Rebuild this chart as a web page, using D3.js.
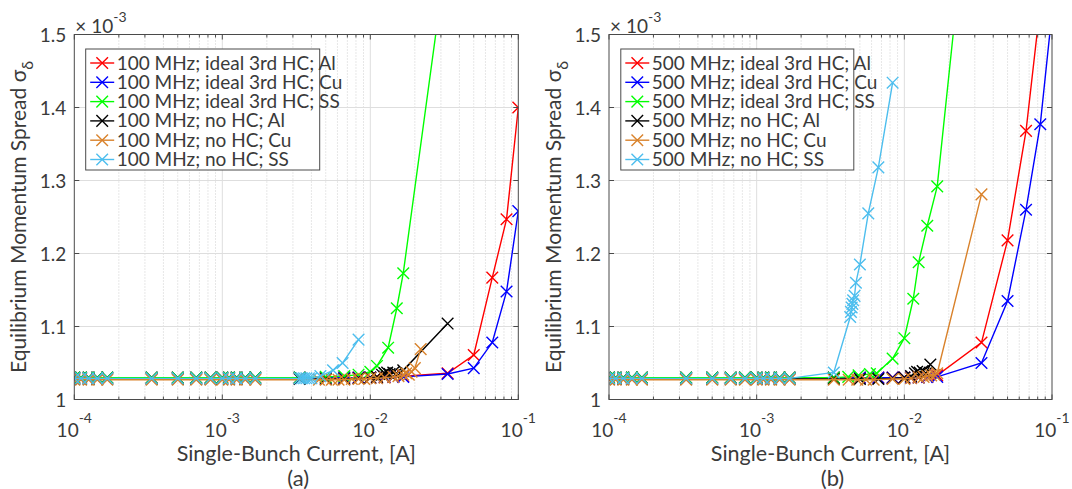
<!DOCTYPE html>
<html>
<head>
<meta charset="utf-8">
<script src="https://cdn.jsdelivr.net/npm/d3@7"></script>
<style>
  body { margin: 0; background: #fff; }
  text { font-family: Lato, "Open Sans", sans-serif; fill: #3a3a3a; }
</style>
</head>
<body>
<svg id="chart" width="1072" height="489"></svg>
<script>
// ---- data: [single-bunch current (A), sigma_delta (x1e-3)] ----
// (a) 100 MHz
const a_idealAl = [[1e-4,1.030],[1.11e-4,1.030],[1.25e-4,1.030],[1.43e-4,1.030],[1.67e-4,1.030],
  [3.33e-4,1.030],[5e-4,1.030],[6.67e-4,1.030],[8.33e-4,1.030],[1e-3,1.030],[1.11e-3,1.030],
  [1.25e-3,1.030],[1.43e-3,1.030],[1.67e-3,1.030],[3.33e-3,1.030],[5e-3,1.030],[6.67e-3,1.030],
  [8.33e-3,1.030],[1e-2,1.030],[1.11e-2,1.031],[1.25e-2,1.031],[1.43e-2,1.031],[1.67e-2,1.032],
  [3.33e-2,1.036],[5e-2,1.061],[6.67e-2,1.167],[8.33e-2,1.247],[1e-1,1.400]];
const a_idealCu = [[1e-4,1.030],[1.11e-4,1.030],[1.25e-4,1.030],[1.43e-4,1.030],[1.67e-4,1.030],
  [3.33e-4,1.030],[5e-4,1.030],[6.67e-4,1.030],[8.33e-4,1.030],[1e-3,1.030],[1.11e-3,1.030],
  [1.25e-3,1.030],[1.43e-3,1.030],[1.67e-3,1.030],[3.33e-3,1.030],[5e-3,1.030],[6.67e-3,1.030],
  [8.33e-3,1.030],[1e-2,1.030],[1.11e-2,1.030],[1.25e-2,1.031],[1.43e-2,1.031],[1.67e-2,1.031],
  [3.33e-2,1.035],[5e-2,1.043],[6.67e-2,1.078],[8.33e-2,1.148],[1e-1,1.258]];
const a_idealSS = [[1e-4,1.030],[1.11e-4,1.030],[1.25e-4,1.030],[1.43e-4,1.030],[1.67e-4,1.030],
  [3.33e-4,1.030],[5e-4,1.030],[6.67e-4,1.030],[8.33e-4,1.030],[1e-3,1.030],[1.11e-3,1.030],
  [1.25e-3,1.030],[1.43e-3,1.030],[1.67e-3,1.030],[3.33e-3,1.030],[5e-3,1.031],[6.67e-3,1.032],
  [8.33e-3,1.034],[1e-2,1.038],[1.11e-2,1.046],[1.32e-2,1.071],[1.51e-2,1.125],[1.67e-2,1.173],
  [3.33e-2,1.620]];
const a_noAl = [[1e-4,1.028],[1.11e-4,1.028],[1.25e-4,1.028],[1.43e-4,1.028],[1.67e-4,1.028],
  [3.33e-4,1.028],[5e-4,1.028],[6.67e-4,1.028],[8.33e-4,1.028],[1e-3,1.028],[1.11e-3,1.028],
  [1.25e-3,1.028],[1.43e-3,1.028],[1.67e-3,1.028],[3.33e-3,1.028],[5e-3,1.028],[6.67e-3,1.028],
  [8.33e-3,1.029],[1e-2,1.030],[1.11e-2,1.031],[1.2e-2,1.034],[1.25e-2,1.036],[1.3e-2,1.037],
  [1.35e-2,1.035],[1.43e-2,1.037],[1.5e-2,1.036],[1.67e-2,1.040],[3.33e-2,1.104]];
const a_noCu = [[1e-4,1.027],[1.11e-4,1.027],[1.25e-4,1.027],[1.43e-4,1.027],[1.67e-4,1.027],
  [3.33e-4,1.027],[5e-4,1.027],[6.67e-4,1.027],[8.33e-4,1.027],[1e-3,1.027],[1.11e-3,1.027],
  [1.25e-3,1.027],[1.43e-3,1.027],[1.67e-3,1.027],[4.5e-3,1.027],[5e-3,1.027],[5.5e-3,1.027],
  [6.1e-3,1.027],[6.67e-3,1.027],[7.5e-3,1.028],[8.33e-3,1.028],[9.1e-3,1.028],[1e-2,1.029],
  [1.11e-2,1.029],[1.25e-2,1.030],[1.43e-2,1.031],[1.55e-2,1.032],[1.67e-2,1.034],[1.75e-2,1.036],
  [1.82e-2,1.034],[1.9e-2,1.038],[2e-2,1.043],[2.19e-2,1.069]];
const a_noSS = [[1e-4,1.029],[1.11e-4,1.029],[1.25e-4,1.029],[1.43e-4,1.029],[1.67e-4,1.029],
  [3.33e-4,1.029],[5e-4,1.029],[6.67e-4,1.029],[8.33e-4,1.029],[1e-3,1.029],[1.11e-3,1.029],
  [1.25e-3,1.029],[1.43e-3,1.029],[1.67e-3,1.029],[3.33e-3,1.029],[3.45e-3,1.029],[3.57e-3,1.029],
  [3.7e-3,1.029],[3.85e-3,1.029],[4e-3,1.029],[4.6e-3,1.032],[5.6e-3,1.040],[6.5e-3,1.050],
  [8.33e-3,1.082]];

// (b) 500 MHz
const b_idealAl = [[1e-4,1.030],[1.11e-4,1.030],[1.25e-4,1.030],[1.43e-4,1.030],[1.67e-4,1.030],
  [3.33e-4,1.030],[5e-4,1.030],[6.67e-4,1.030],[8.33e-4,1.030],[1e-3,1.030],[1.11e-3,1.030],
  [1.25e-3,1.030],[1.43e-3,1.030],[1.67e-3,1.030],[3.33e-3,1.030],[5e-3,1.030],[6.67e-3,1.030],
  [8.33e-3,1.030],[1e-2,1.030],[1.11e-2,1.030],[1.25e-2,1.031],[1.43e-2,1.031],[1.67e-2,1.033],
  [3.33e-2,1.078],[5e-2,1.218],[6.67e-2,1.368],[8.33e-2,1.540]];
const b_idealCu = [[1e-4,1.030],[1.11e-4,1.030],[1.25e-4,1.030],[1.43e-4,1.030],[1.67e-4,1.030],
  [3.33e-4,1.030],[5e-4,1.030],[6.67e-4,1.030],[8.33e-4,1.030],[1e-3,1.030],[1.11e-3,1.030],
  [1.25e-3,1.030],[1.43e-3,1.030],[1.67e-3,1.030],[3.33e-3,1.030],[5e-3,1.030],[6.67e-3,1.030],
  [8.33e-3,1.030],[1e-2,1.030],[1.11e-2,1.030],[1.25e-2,1.030],[1.43e-2,1.031],[1.67e-2,1.031],
  [3.33e-2,1.050],[5e-2,1.135],[6.67e-2,1.260],[8.33e-2,1.377],[1e-1,1.530]];
const b_idealSS = [[1e-4,1.030],[1.11e-4,1.030],[1.25e-4,1.030],[1.43e-4,1.030],[1.67e-4,1.030],
  [3.33e-4,1.030],[5e-4,1.030],[6.67e-4,1.030],[8.33e-4,1.030],[1e-3,1.030],[1.11e-3,1.030],
  [1.25e-3,1.030],[1.43e-3,1.030],[1.67e-3,1.030],[3.33e-3,1.030],[4.17e-3,1.031],[4.9e-3,1.033],
  [5.85e-3,1.035],[6.5e-3,1.036],[8.33e-3,1.056],[1e-2,1.084],[1.15e-2,1.138],[1.25e-2,1.188],
  [1.43e-2,1.238],[1.67e-2,1.292],[3.33e-2,1.870]];
const b_noAl = [[1e-4,1.028],[1.11e-4,1.028],[1.25e-4,1.028],[1.43e-4,1.028],[1.67e-4,1.028],
  [3.33e-4,1.028],[5e-4,1.028],[6.67e-4,1.028],[8.33e-4,1.028],[1e-3,1.028],[1.11e-3,1.028],
  [1.25e-3,1.028],[1.43e-3,1.028],[1.67e-3,1.028],[3.33e-3,1.028],[5e-3,1.028],[6.67e-3,1.028],
  [8.33e-3,1.029],[1e-2,1.030],[1.11e-2,1.032],[1.18e-2,1.036],[1.22e-2,1.038],[1.27e-2,1.037],
  [1.33e-2,1.039],[1.4e-2,1.036],[1.5e-2,1.048]];
const b_noCu = [[1e-4,1.027],[1.11e-4,1.027],[1.25e-4,1.027],[1.43e-4,1.027],[1.67e-4,1.027],
  [3.33e-4,1.027],[5e-4,1.027],[6.67e-4,1.027],[8.33e-4,1.027],[1e-3,1.027],[1.11e-3,1.027],
  [1.25e-3,1.027],[1.43e-3,1.027],[1.67e-3,1.027],[3.33e-3,1.027],[4.2e-3,1.027],[4.8e-3,1.027],
  [5.5e-3,1.027],[6.2e-3,1.027],[8.33e-3,1.028],[1e-2,1.028],[1.11e-2,1.029],[1.25e-2,1.030],
  [1.35e-2,1.031],[1.43e-2,1.032],[1.52e-2,1.033],[1.6e-2,1.034],[1.67e-2,1.036],[3.33e-2,1.281]];
const b_noSS = [[1e-4,1.029],[1.11e-4,1.029],[1.25e-4,1.029],[1.43e-4,1.029],[1.67e-4,1.029],
  [3.33e-4,1.029],[5e-4,1.029],[6.67e-4,1.029],[8.33e-4,1.029],[1e-3,1.029],[1.11e-3,1.029],
  [1.25e-3,1.029],[1.43e-3,1.029],[1.67e-3,1.029],[3.33e-3,1.037],[4.3e-3,1.113],[4.35e-3,1.120],
  [4.4e-3,1.126],[4.45e-3,1.131],[4.5e-3,1.136],[4.6e-3,1.142],[4.7e-3,1.160],[5e-3,1.185],
  [5.7e-3,1.255],[6.67e-3,1.318],[8.33e-3,1.434]];

const namesA = ["100 MHz; ideal 3rd HC; Al", "100 MHz; ideal 3rd HC; Cu", "100 MHz; ideal 3rd HC; SS",
                "100 MHz; no HC; Al", "100 MHz; no HC; Cu", "100 MHz; no HC; SS"];
const namesB = ["500 MHz; ideal 3rd HC; Al", "500 MHz; ideal 3rd HC; Cu", "500 MHz; ideal 3rd HC; SS",
                "500 MHz; no HC; Al", "500 MHz; no HC; Cu", "500 MHz; no HC; SS"];
const colors = ["#ff0000", "#0000ff", "#00ff00", "#000000", "#d9822b", "#4dbeee"];
const yTicks = [1, 1.1, 1.2, 1.3, 1.4, 1.5];
const xMajor = [1e-4, 1e-3, 1e-2, 1e-1];

function drawChart() {
  var svg = d3.select("#chart");
  var plotTop = 34.5, plotBottom = 399.5;

  var panels = [
    {key: "a", left: 74.3, right: 518.3, series: [a_idealAl, a_idealCu, a_idealSS, a_noAl, a_noCu, a_noSS],
     names: namesA, tag: "(a)", lx: 85.7, lw: 234},
    {key: "b", left: 609, right: 1052, series: [b_idealAl, b_idealCu, b_idealSS, b_noAl, b_noCu, b_noSS],
     names: namesB, tag: "(b)", lx: 620.8, lw: 233}
  ];

  // "x" marker path centred on 0,0
  function cross(s) {
    return "M" + (-s) + "," + (-s) + "L" + s + "," + s + "M" + (-s) + "," + s + "L" + s + "," + (-s);
  }

  panels.forEach(function(p) {
    var x = d3.scaleLog().domain([1e-4, 1e-1]).range([p.left, p.right]);
    var y = d3.scaleLinear().domain([1, 1.5]).range([plotBottom, plotTop]);
    var g = svg.append("g");
    var allTicks = x.ticks();
    var minor = allTicks.filter(function(t) { return Math.abs(Math.log10(t) - Math.round(Math.log10(t))) > 1e-6; });

    // grid
    g.selectAll(".minor").data(minor).enter().append("line")
      .attr("x1", function(d) { return x(d); }).attr("x2", function(d) { return x(d); })
      .attr("y1", plotTop).attr("y2", plotBottom)
      .attr("stroke", "#cfcfcf").attr("stroke-dasharray", "1,2").attr("stroke-width", 1);
    g.selectAll(".xmaj").data(xMajor.slice(1, 3)).enter().append("line")
      .attr("x1", function(d) { return x(d); }).attr("x2", function(d) { return x(d); })
      .attr("y1", plotTop).attr("y2", plotBottom)
      .attr("stroke", "#dedede").attr("stroke-width", 1);
    g.selectAll(".ymaj").data(yTicks.slice(1, 5)).enter().append("line")
      .attr("x1", p.left).attr("x2", p.right)
      .attr("y1", function(d) { return y(d); }).attr("y2", function(d) { return y(d); })
      .attr("stroke", "#dedede").attr("stroke-width", 1);

    // data
    var clipId = "clip" + p.key;
    svg.append("clipPath").attr("id", clipId).append("rect")
      .attr("x", p.left).attr("y", plotTop).attr("width", p.right - p.left).attr("height", plotBottom - plotTop);
    var line = d3.line().x(function(d) { return x(d[0]); }).y(function(d) { return y(d[1]); });
    var plot = g.append("g").attr("clip-path", "url(#" + clipId + ")");
    p.series.forEach(function(s, i) {
      plot.append("path").datum(s).attr("d", line)
        .attr("fill", "none").attr("stroke", colors[i]).attr("stroke-width", 1.4);
      plot.selectAll(".m" + i).data(s).enter().append("path")
        .attr("transform", function(d) { return "translate(" + x(d[0]) + "," + y(d[1]) + ")"; })
        .attr("d", cross(5.8))
        .attr("fill", "none").attr("stroke", colors[i]).attr("stroke-width", 1.4);
    });

    // axes box + ticks (inside)
    g.append("rect").attr("x", p.left).attr("y", plotTop).attr("width", p.right - p.left).attr("height", plotBottom - plotTop)
      .attr("fill", "none").attr("stroke", "#4a4a4a").attr("stroke-width", 1);
    var tk = g.append("g").attr("stroke", "#4a4a4a").attr("stroke-width", 1);
    allTicks.forEach(function(t) {
      var len = minor.indexOf(t) >= 0 ? 3 : 5;
      tk.append("line").attr("x1", x(t)).attr("x2", x(t)).attr("y1", plotBottom).attr("y2", plotBottom - len);
      tk.append("line").attr("x1", x(t)).attr("x2", x(t)).attr("y1", plotTop).attr("y2", plotTop + len);
    });
    yTicks.forEach(function(t) {
      tk.append("line").attr("x1", p.left).attr("x2", p.left + 5).attr("y1", y(t)).attr("y2", y(t));
      tk.append("line").attr("x1", p.right).attr("x2", p.right - 5).attr("y1", y(t)).attr("y2", y(t));
    });

    // tick labels
    g.selectAll(".yl").data(yTicks).enter().append("text")
      .attr("x", p.left - 8).attr("y", function(d) { return y(d) + 7; })
      .attr("text-anchor", "end").style("font-size", "19px")
      .text(function(d) { return d3.format("~g")(d); });
    xMajor.forEach(function(t) {
      var lab = g.append("text").attr("x", x(t)).attr("y", plotBottom + 37)
        .attr("text-anchor", "middle").style("font-size", "19px");
      lab.append("tspan").text("10");
      lab.append("tspan").attr("dy", -14).style("font-size", "14px").text(Math.round(Math.log10(t)));
    });
    var mult = g.append("text").attr("x", p.left + 1).attr("y", plotTop - 2).style("font-size", "19px");
    mult.append("tspan").text("\u00d7 10");
    mult.append("tspan").attr("dy", -11).style("font-size", "14px").text("-3");

    // axis labels
    g.append("text").attr("x", (p.left + p.right) / 2).attr("y", plotBottom + 61)
      .attr("text-anchor", "middle").style("font-size", "21.5px").text("Single-Bunch Current, [A]");
    g.append("text").attr("x", (p.left + p.right) / 2 + 2).attr("y", plotBottom + 86)
      .attr("text-anchor", "middle").style("font-size", "22px").text(p.tag);
    var yl = g.append("text")
      .attr("transform", "translate(" + (p.left - 48) + "," + ((plotTop + plotBottom) / 2) + ") rotate(-90)")
      .attr("text-anchor", "middle").style("font-size", "21px");
    yl.append("tspan").text("Equilibrium Momentum Spread \u03c3");
    yl.append("tspan").attr("dy", 7).style("font-size", "16px").text("\u03b4");

    // legend
    var lg = g.append("g");
    lg.append("rect").attr("x", p.lx).attr("y", 49).attr("width", p.lw).attr("height", 121)
      .attr("fill", "#fff").attr("stroke", "#4a4a4a").attr("stroke-width", 1);
    p.names.forEach(function(n, i) {
      var cy = 63 + i * 19.3;
      lg.append("line").attr("x1", p.lx + 4.5).attr("x2", p.lx + 28.5).attr("y1", cy).attr("y2", cy)
        .attr("stroke", colors[i]).attr("stroke-width", 1.4);
      lg.append("path").attr("transform", "translate(" + (p.lx + 16.5) + "," + cy + ")")
        .attr("d", cross(5.8)).attr("fill", "none").attr("stroke", colors[i]).attr("stroke-width", 1.4);
      lg.append("text").attr("x", p.lx + 31).attr("y", cy + 6.5).style("font-size", "19px").text(n);
    });
  });
}
drawChart();
</script>
</body>
</html>
